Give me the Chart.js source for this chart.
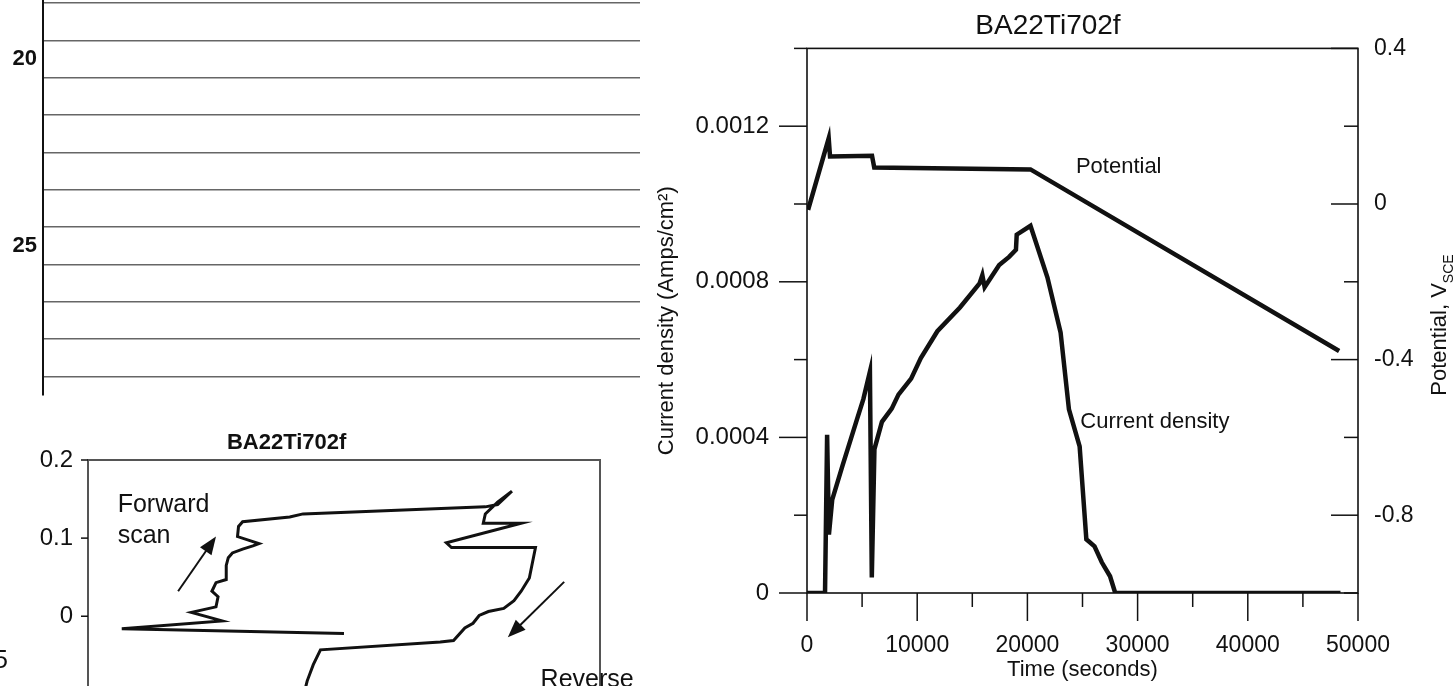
<!DOCTYPE html>
<html>
<head>
<meta charset="utf-8">
<script src="https://cdn.jsdelivr.net/npm/chart.js@4.4.1/dist/chart.umd.min.js"></script>
<style>
  html, body { margin: 0; padding: 0; background: #fff; overflow: hidden; }
  body { width: 1456px; height: 686px; position: relative; }
  canvas { position: absolute; }
  #strip { left: 0; top: -18px; }
  #polar { left: 0; top: 420px; }
  #main { left: 640px; top: -4px; }
</style>
</head>
<body>
<canvas id="strip" width="650" height="438"></canvas>
<canvas id="polar" width="650" height="460"></canvas>
<canvas id="main" width="816" height="690"></canvas>
<script>
// right chart: current density and potential against time
const timeCurrent = [0, 1635, 1825, 1990, 2290, 3230, 4520, 5120, 5710, 5880, 6120, 6800, 7690, 8300,
  9450, 10330, 11830, 13880, 15660, 15910, 16120, 17440, 18340, 18960, 19030, 20280, 21820, 23010,
  23770, 24740, 25350, 26090, 26750, 27500, 27970, 48410];
const currentDensity = [0, 0, 0.000407, 0.00015, 0.00024, 0.000328, 0.000445, 0.000499, 0.000569, 0.00004,
  0.00037, 0.00044, 0.000474, 0.00051, 0.000551, 0.000604, 0.000673, 0.000734, 0.000796, 0.000817,
  0.000786, 0.000843, 0.000864, 0.000882, 0.000921, 0.000944, 0.000811, 0.00067, 0.000472, 0.000377,
  0.000138, 0.00012, 0.000079, 0.000043, 0, 0];
const timePotential = [100, 1970, 2090, 5900, 6100, 20280, 48290];
const potential = [-0.015, 0.169, 0.122, 0.124, 0.094, 0.089, -0.378];
const timeTicks = [0, 10000, 20000, 30000, 40000, 50000];
const currentTicks = [0, 0.0004, 0.0008, 0.0012];
const potentialTicks = [0.4, 0, -0.4, -0.8];

// bottom-left chart: forward / reverse scan (x is log current, no labels visible)
const scanLogI = [-6.50, -8.67, -7.69, -7.99, -7.75, -7.73, -7.79, -7.75, -7.65, -7.65, -7.63, -7.59,
  -7.49, -7.39, -7.33, -7.54, -7.53, -7.49, -7.03, -6.90, -5.12, -5.00, -4.86, -5.00, -5.12, -5.14,
  -4.77, -5.50, -5.45, -4.63, -4.69, -4.77, -4.84, -4.94, -5.09, -5.18, -5.24, -5.32, -5.43, -5.56,
  -6.73, -6.80, -6.86, -6.93];
const scanPotential = [-0.022, -0.016, -0.006, 0.005, 0.012, 0.025, 0.032, 0.043, 0.047, 0.065, 0.075,
  0.081, 0.086, 0.090, 0.093, 0.102, 0.115, 0.121, 0.127, 0.131, 0.140, 0.143, 0.160, 0.146, 0.131,
  0.119, 0.119, 0.094, 0.088, 0.088, 0.049, 0.032, 0.020, 0.010, 0.006, 0.001, -0.009, -0.015, -0.031,
  -0.033, -0.043, -0.062, -0.083, -0.120];
const scanTicks = [0.2, 0.1, 0];

// top-left chart: only the row axis is on the page
const rowTicks = [20, 25];

const FONT = "'Liberation Sans', Arial, Helvetica, sans-serif";
const INK = '#111';
Chart.defaults.font.family = FONT;
Chart.defaults.color = INK;

function steps(min, max, step) {
  const out = [];
  const n = Math.round((max - min) / step);
  for (let i = 0; i <= n; i++) out.push(+(min + i * step).toFixed(6));
  return out;
}
function near(list, v, eps) {
  return list.some(t => Math.abs(t - v) < eps);
}
function setTicks(values) {
  return s => { s.ticks = values.map(v => ({ value: v })); };
}
function pairs(xs, ys) {
  return xs.map((x, i) => ({ x: x, y: ys[i] }));
}

// plot frame + tick marks of different lengths, in or out
const frameAndTicks = {
  id: 'frameAndTicks',
  afterDatasetsDraw(chart, args, opts) {
    const { ctx, chartArea: a } = chart;
    ctx.save();
    if (opts.frame) {
      ctx.strokeStyle = opts.frame;
      ctx.lineWidth = opts.frameWidth || 1.5;
      ctx.strokeRect(a.left, a.top, a.right - a.left, a.bottom - a.top);
    }
    ctx.strokeStyle = INK;
    ctx.lineWidth = 1.5;
    (opts.marks || []).forEach(m => {
      const s = chart.scales[m.axis];
      s.ticks.forEach(t => {
        const len = near(m.major, t.value, m.eps) ? m.long : m.short;
        const p = s.getPixelForValue(t.value);
        ctx.beginPath();
        if (s.isHorizontal()) {
          ctx.moveTo(p, a.bottom);
          ctx.lineTo(p, a.bottom + len);
        } else {
          const left = s.position === 'left';
          const x0 = left ? a.left : a.right;
          const sign = left === (m.dir === 'out') ? -1 : 1;
          ctx.moveTo(x0, p);
          ctx.lineTo(x0 + sign * len, p);
        }
        ctx.stroke();
      });
    });
    ctx.restore();
  }
};

function arrow(ctx, x1, y1, x2, y2) {
  const ang = Math.atan2(y2 - y1, x2 - x1);
  ctx.beginPath();
  ctx.moveTo(x1, y1);
  ctx.lineTo(x2 - 10 * Math.cos(ang), y2 - 10 * Math.sin(ang));
  ctx.stroke();
  ctx.beginPath();
  ctx.moveTo(x2, y2);
  ctx.lineTo(x2 - 18 * Math.cos(ang) + 7 * Math.sin(ang), y2 - 18 * Math.sin(ang) - 7 * Math.cos(ang));
  ctx.lineTo(x2 - 18 * Math.cos(ang) - 7 * Math.sin(ang), y2 - 18 * Math.sin(ang) + 7 * Math.cos(ang));
  ctx.closePath();
  ctx.fill();
}

// ---------- top-left strip ----------
new Chart(document.getElementById('strip'), {
  type: 'scatter',
  data: { datasets: [] },
  options: {
    responsive: false,
    animation: false,
    layout: { padding: { top: 0, right: 10, bottom: 25, left: 0 } },
    plugins: { legend: { display: false }, tooltip: { enabled: false } },
    scales: {
      x: { type: 'linear', min: 0, max: 1, display: false },
      y: {
        type: 'linear',
        reverse: true,
        min: 18.45,
        max: 29,
        afterFit: s => { s.width = 43; },
        afterBuildTicks: setTicks(steps(18.5, 28.5, 0.5)),
        grid: {
          drawTicks: false,
          lineWidth: 1.4,
          color: c => (Math.abs(c.tick.value % 1 - 0.5) < 0.01 ? '#666' : 'rgba(0,0,0,0)')
        },
        border: { display: true, color: INK, width: 2 },
        ticks: {
          autoSkip: false,
          padding: 6,
          color: INK,
          font: { size: 22, weight: 'bold' },
          callback: v => (rowTicks.includes(v) ? String(v) : '')
        }
      }
    }
  }
});

// ---------- bottom-left scan ----------
const polarNotes = {
  id: 'polarNotes',
  afterDraw(chart) {
    const { ctx, chartArea: a, scales: { x, y } } = chart;
    ctx.save();
    ctx.fillStyle = INK;
    ctx.strokeStyle = INK;
    ctx.lineWidth = 2;
    ctx.textBaseline = 'middle';
    ctx.textAlign = 'center';
    ctx.font = `bold 22px ${FONT}`;
    ctx.fillText('BA22Ti702f', x.getPixelForValue(-7.06), a.top - 17);
    ctx.textAlign = 'left';
    ctx.font = `25px ${FONT}`;
    ctx.fillText('Forward', x.getPixelForValue(-8.71), y.getPixelForValue(0.142));
    ctx.fillText('scan', x.getPixelForValue(-8.71), y.getPixelForValue(0.102));
    ctx.fillText('Reverse', x.getPixelForValue(-4.58), y.getPixelForValue(-0.082));
    ctx.textAlign = 'right';
    ctx.fillText('5', 8, y.getPixelForValue(-0.058));
    arrow(ctx, x.getPixelForValue(-8.12), y.getPixelForValue(0.032), x.getPixelForValue(-7.75), y.getPixelForValue(0.102));
    arrow(ctx, x.getPixelForValue(-4.35), y.getPixelForValue(0.044), x.getPixelForValue(-4.90), y.getPixelForValue(-0.027));
    ctx.restore();
  }
};

new Chart(document.getElementById('polar'), {
  type: 'scatter',
  data: {
    datasets: [{
      label: 'BA22Ti702f',
      data: pairs(scanLogI, scanPotential),
      showLine: true,
      borderColor: INK,
      borderWidth: 3,
      pointRadius: 0,
      tension: 0
    }]
  },
  options: {
    responsive: false,
    animation: false,
    layout: { padding: { top: 40, right: 50, bottom: 15, left: 0 } },
    plugins: {
      legend: { display: false },
      tooltip: { enabled: false },
      frameAndTicks: {
        frame: '#555',
        frameWidth: 2,
        marks: [{ axis: 'y', major: scanTicks, long: 7, short: 7, dir: 'out', eps: 0.01 }]
      }
    },
    scales: {
      x: { type: 'linear', min: -9, max: -4, display: false },
      y: {
        type: 'linear',
        min: -0.3,
        max: 0.2,
        afterFit: s => { s.width = 88; },
        afterBuildTicks: setTicks(scanTicks),
        grid: { display: false, drawTicks: false },
        border: { display: false },
        ticks: {
          autoSkip: false,
          padding: 15,
          color: INK,
          font: { size: 24 },
          callback: v => String(v)
        }
      }
    }
  },
  plugins: [frameAndTicks, polarNotes]
});

// ---------- right: current density and potential ----------
const mainNotes = {
  id: 'mainNotes',
  afterDraw(chart) {
    const { ctx, scales: { x, y, y2 } } = chart;
    ctx.save();
    ctx.fillStyle = INK;
    ctx.font = `22px ${FONT}`;
    ctx.textAlign = 'left';
    ctx.textBaseline = 'middle';
    ctx.fillText('Potential', x.getPixelForValue(24400), y2.getPixelForValue(0.096));
    ctx.fillText('Current density', x.getPixelForValue(24800), y.getPixelForValue(0.00044));
    // right axis title, V with subscript SCE
    const main = 'Potential, V';
    const sub = 'SCE';
    const w1 = ctx.measureText(main).width;
    ctx.font = `14px ${FONT}`;
    const w2 = ctx.measureText(sub).width;
    ctx.translate(chart.chartArea.right + 82, 329);
    ctx.rotate(-Math.PI / 2);
    const start = -(w1 + w2) / 2;
    ctx.font = `22px ${FONT}`;
    ctx.fillText(main, start, 0);
    ctx.font = `14px ${FONT}`;
    ctx.fillText(sub, start + w1, 9);
    ctx.restore();
  }
};

new Chart(document.getElementById('main'), {
  type: 'scatter',
  data: {
    datasets: [
      {
        label: 'Current density',
        data: pairs(timeCurrent, currentDensity),
        yAxisID: 'y',
        showLine: true,
        borderColor: INK,
        borderWidth: 4.5,
        pointRadius: 0,
        tension: 0
      },
      {
        label: 'Potential',
        data: pairs(timePotential, potential),
        yAxisID: 'y2',
        showLine: true,
        borderColor: INK,
        borderWidth: 4.5,
        pointRadius: 0,
        tension: 0
      }
    ]
  },
  options: {
    responsive: false,
    animation: false,
    layout: { padding: 0 },
    plugins: {
      legend: { display: false },
      tooltip: { enabled: false },
      title: {
        display: true,
        text: 'BA22Ti702f',
        color: INK,
        font: { size: 28, weight: 'normal' },
        padding: { top: 0, bottom: 5 }
      },
      frameAndTicks: {
        frame: INK,
        frameWidth: 1.6,
        marks: [
          { axis: 'x', major: timeTicks, long: 28, short: 14, dir: 'out', eps: 100 },
          { axis: 'y', major: currentTicks, long: 28, short: 13, dir: 'out', eps: 0.00001 },
          { axis: 'y2', major: potentialTicks, long: 27, short: 14, dir: 'in', eps: 0.01 }
        ]
      }
    },
    scales: {
      x: {
        type: 'linear',
        min: 0,
        max: 50000,
        afterFit: s => { s.height = 93; },
        afterBuildTicks: setTicks(steps(0, 50000, 5000)),
        grid: { display: false, drawTicks: false },
        border: { display: false },
        ticks: {
          autoSkip: false,
          maxRotation: 0,
          padding: 39,
          color: INK,
          font: { size: 23 },
          callback: v => (timeTicks.includes(v) ? String(v) : '')
        },
        title: {
          display: true,
          text: 'Time (seconds)',
          color: INK,
          font: { size: 22 },
          padding: { top: 0, bottom: 3 }
        }
      },
      y: {
        type: 'linear',
        position: 'left',
        min: 0,
        max: 0.0014,
        afterFit: s => { s.width = 167; },
        afterBuildTicks: setTicks(steps(0, 0.0014, 0.0002)),
        grid: { display: false, drawTicks: false },
        border: { display: false },
        ticks: {
          autoSkip: false,
          padding: 38,
          color: INK,
          font: { size: 24 },
          callback: v => {
            const hit = currentTicks.find(t => Math.abs(t - v) < 0.00001);
            return hit === undefined ? '' : String(hit);
          }
        },
        title: {
          display: true,
          text: 'Current density (Amps/cm²)',
          color: INK,
          font: { size: 22 },
          padding: { top: 14, bottom: 0 }
        }
      },
      y2: {
        type: 'linear',
        position: 'right',
        min: -1.0,
        max: 0.4,
        afterFit: s => { s.width = 98; },
        afterBuildTicks: setTicks(steps(-1.0, 0.4, 0.2)),
        grid: { display: false, drawTicks: false },
        border: { display: false },
        ticks: {
          autoSkip: false,
          padding: 16,
          color: INK,
          font: { size: 23 },
          callback: v => {
            const hit = potentialTicks.find(t => Math.abs(t - v) < 0.01);
            return hit === undefined ? '' : String(hit);
          }
        }
      }
    }
  },
  plugins: [frameAndTicks, mainNotes]
});
</script>
</body>
</html>
